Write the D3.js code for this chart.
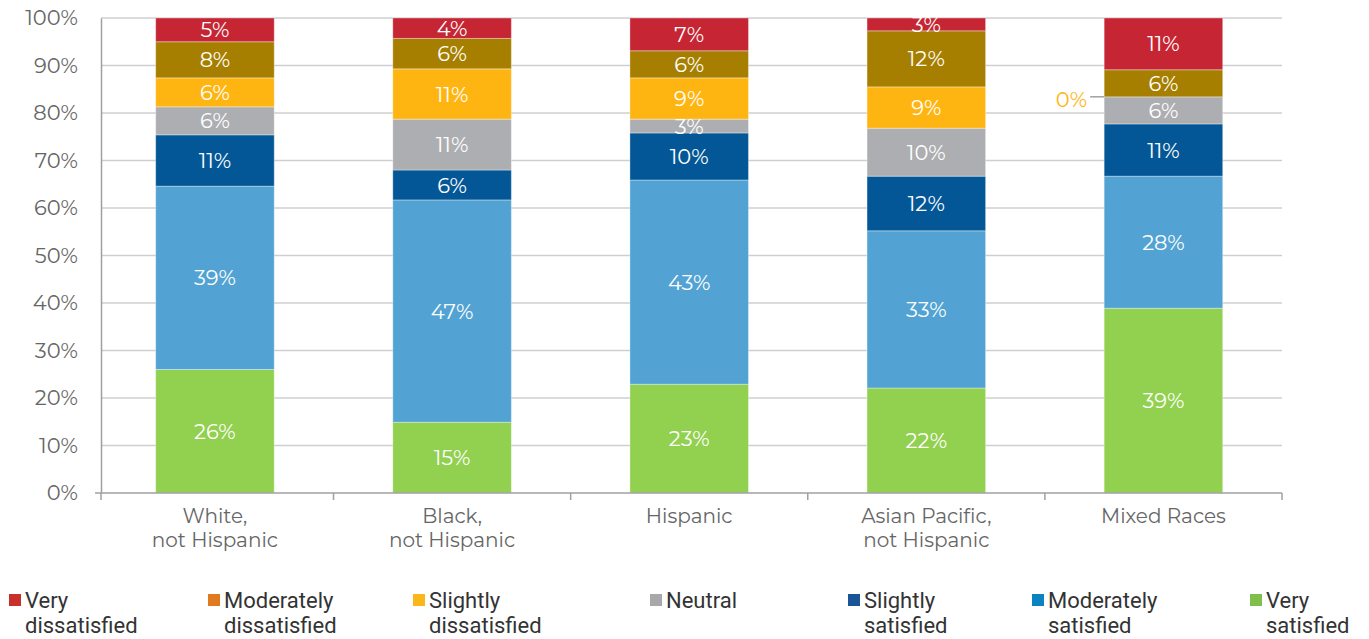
<!DOCTYPE html>
<html><head><meta charset="utf-8">
<script src="https://cdn.jsdelivr.net/npm/d3@7"></script>
<style>body{margin:0;background:#fff}svg{display:block}</style>
</head><body>
<script>
const categories = ["White,\nnot Hispanic","Black,\nnot Hispanic","Hispanic","Asian Pacific,\nnot Hispanic","Mixed Races"];
const seriesNames = ["Very satisfied","Moderately satisfied","Slightly satisfied","Neutral","Slightly dissatisfied","Moderately dissatisfied","Very dissatisfied"];
const verySatisfied         = [26.0, 14.9, 22.9, 22.1, 38.9];
const moderatelySatisfied   = [38.6, 46.8, 43.0, 33.1, 27.8];
const slightlySatisfied     = [10.8, 6.3, 9.9, 11.5, 11.0];
const neutral               = [5.9, 10.7, 2.9, 10.1, 5.7];
const slightlyDissatisfied  = [6.1, 10.6, 8.7, 8.7, 0.0];
const moderatelyDissatisfied= [7.6, 6.4, 5.7, 11.8, 5.7];
const veryDissatisfied      = [5.0, 4.3, 6.9, 2.7, 10.9];
const yTicks = [0,10,20,30,40,50,60,70,80,90,100];
const legendOrder = ["Very dissatisfied","Moderately dissatisfied","Slightly dissatisfied","Neutral","Slightly satisfied","Moderately satisfied","Very satisfied"];
const legendLabels = [["Very","dissatisfied"],["Moderately","dissatisfied"],["Slightly","dissatisfied"],["Neutral"],["Slightly","satisfied"],["Moderately","satisfied"],["Very","satisfied"]];

const barColors = {"Very satisfied":"#92d050","Moderately satisfied":"#52a3d3","Slightly satisfied":"#045796","Neutral":"#adaeb1","Slightly dissatisfied":"#ffb511","Moderately dissatisfied":"#a67f00","Very dissatisfied":"#c62533"};
const legendColors = {"Very satisfied":"#80bf4b","Moderately satisfied":"#0b83c0","Slightly satisfied":"#1a5597","Neutral":"#a8a8aa","Slightly dissatisfied":"#fbb71a","Moderately dissatisfied":"#e07a1e","Very dissatisfied":"#c8302c"};

const seriesValues = [verySatisfied, moderatelySatisfied, slightlySatisfied, neutral, slightlyDissatisfied, moderatelyDissatisfied, veryDissatisfied];
const table = categories.map((c,i)=>{const o={cat:c}; seriesNames.forEach((s,j)=>o[s]=seriesValues[j][i]); return o;});
const stacked = d3.stack().keys(seriesNames)(table);

const W=1369,H=639;
const svg=d3.select("body").append("svg").attr("width",W).attr("height",H);
const font="Montserrat, 'Open Sans', sans-serif";
const x=d3.scaleBand().domain(categories).range([96.4,1282]).paddingInner(0.5).paddingOuter(0.25);
const y=d3.scaleLinear().domain([0,100]).range([493,18]);

// gridlines
svg.append("g").selectAll("line").data(yTicks.filter(t=>t>0)).join("line")
  .attr("x1",101).attr("x2",1282).attr("y1",d=>y(d)).attr("y2",d=>y(d))
  .attr("stroke","#cfcfd1").attr("stroke-width",1.3);

// y axis
const yAxis=svg.append("g").attr("transform","translate(101,0)")
  .call(d3.axisLeft(y).tickValues(yTicks).tickFormat(d=>d+"%").tickSize(0).tickPadding(23));
yAxis.select(".domain").attr("stroke","#a0a0a0").attr("stroke-width",1.5);
yAxis.selectAll("text").attr("font-family",font).attr("font-size",21).attr("fill","#666");

// bars
const g=svg.append("g");
stacked.forEach(layer=>{
  g.append("g").selectAll("rect").data(layer).join("rect")
    .attr("x",d=>x(d.data.cat)).attr("width",x.bandwidth())
    .attr("y",d=>y(d[1])).attr("height",d=>y(d[0])-y(d[1]))
    .attr("fill",barColors[layer.key]).attr("stroke","#ffffff").attr("stroke-opacity",0.35).attr("stroke-width",1);
});
// labels
stacked.forEach(layer=>{
  g.append("g").selectAll("text").data(layer.filter(d=>d[1]-d[0]>0)).join("text")
    .attr("x",d=>x(d.data.cat)+x.bandwidth()/2)
    .attr("y",d=>(y(d[0])+y(d[1]))/2).attr("dy","0.36em")
    .attr("text-anchor","middle").attr("font-family",font).attr("font-size",21).attr("fill","#fff")
    .text(d=>Math.round(d[1]-d[0])+"%");
});
// zero label with leader
stacked.forEach(layer=>{
  layer.filter(d=>d[1]-d[0]===0).forEach(d=>{
    const bx=x(d.data.cat), yy=y(d[1]);
    svg.append("line").attr("x1",bx-14).attr("x2",bx).attr("y1",yy).attr("y2",yy).attr("stroke","#888").attr("stroke-width",1.2);
    svg.append("text").attr("x",bx-17).attr("y",yy+3).attr("dy","0.36em").attr("text-anchor","end")
      .attr("font-family",font).attr("font-size",21).attr("fill","#ffb511").text("0%");
  });
});

// x axis line
svg.append("line").attr("x1",95).attr("x2",1282).attr("y1",493).attr("y2",493).attr("stroke","#a0a0a0").attr("stroke-width",1.5);
const step=x.step();
svg.append("g").selectAll("line").data(d3.range(0,6)).join("line")
  .attr("x1",i=>i===0?101:x(categories[0])+x.bandwidth()/2 - step/2 + step*i)
  .attr("x2",i=>i===0?101:x(categories[0])+x.bandwidth()/2 - step/2 + step*i)
  .attr("y1",493).attr("y2",500).attr("stroke","#a0a0a0").attr("stroke-width",1.5);
// category labels
const cl=svg.append("g");
categories.forEach(c=>{
  const lines=c.split("\n");
  const t=cl.append("text").attr("x",x(c)+x.bandwidth()/2).attr("y",523).attr("text-anchor","middle")
    .attr("font-family",font).attr("font-size",20).attr("fill","#666");
  lines.forEach((l,i)=>t.append("tspan").attr("x",x(c)+x.bandwidth()/2).attr("dy",i?24:0).text(l));
});

// legend
const legX=[9,208,413,650,848,1032,1250];
const lg=svg.append("g");
legendOrder.forEach((k,i)=>{
  lg.append("rect").attr("x",legX[i]).attr("y",594).attr("width",12).attr("height",12).attr("fill",legendColors[k]);
  const t=lg.append("text").attr("x",legX[i]+16).attr("y",608).attr("font-family","Roboto, 'Liberation Sans', sans-serif")
    .attr("font-size",22).attr("fill","#333");
  legendLabels[i].forEach((l,j)=>t.append("tspan").attr("x",legX[i]+16).attr("dy",j?25:0).text(l));
});
</script>
</body></html>
